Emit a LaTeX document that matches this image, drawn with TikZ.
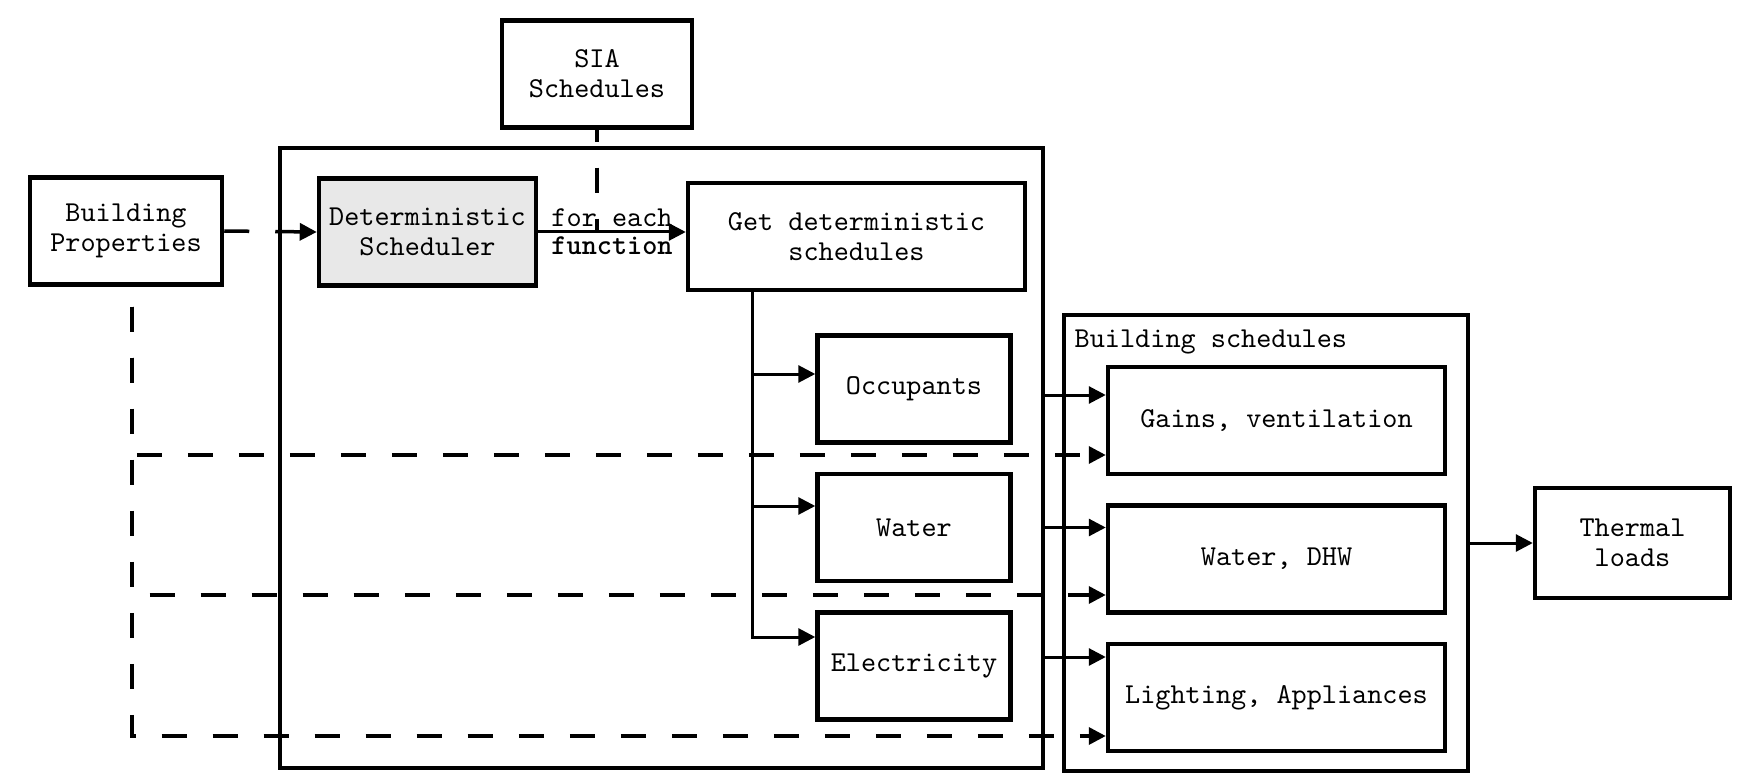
\documentclass[tikz,border=0pt]{standalone}
\usepackage{fontspec}
\setmainfont{lmmono10-regular}[Extension=.otf, BoldFont=lmmonolt10-bold]
\usetikzlibrary{arrows.meta}
\tikzset{
  >={Triangle[length=0.17cm,width=0.17cm]},
  box/.style={draw, line width=0.045cm, minimum width=1.93cm, minimum height=1.07cm, align=center, inner sep=0pt},
  widebox/.style={box, minimum width=3.37cm},
  frame/.style={draw, line width=0.04cm, inner sep=0pt},
  link/.style={line width=0.03cm},
  dashlink/.style={line width=0.035cm, dash pattern=on 0.25cm off 0.26cm},
}
\begin{document}
\begin{tikzpicture}[font=\fontsize{8.2}{8.6}\selectfont]
\useasboundingbox (0,0) rectangle (17.56,7.82);
\draw (6.615,3.24) node [frame, minimum width=7.63cm, minimum height=6.20cm] (proc) {};
\draw (12.66,2.39) node [frame, minimum width=4.04cm, minimum height=4.56cm] (bsched) {};
\draw (10.74,4.40) node [anchor=west, inner sep=0pt] (bslabel) {Building schedules};
\draw (1.26,5.51) node [box, minimum width=1.92cm] (bp) {Building\\Properties};
\draw (5.97,7.08) node [box, minimum width=1.90cm] (sia) {SIA\\Schedules};
\draw (4.275,5.50) node [box, minimum width=2.17cm, fill=gray!18] (det) {Deterministic\\Scheduler};
\draw (8.565,5.455) node [widebox] (get) {Get deterministic\\schedules};
\draw (9.14,3.93) node [box] (occ) {Occupants};
\draw (9.14,2.545) node [box] (wat) {Water};
\draw (9.14,1.16) node [box] (ele) {Electricity};
\draw (12.765,3.615) node [widebox] (gains) {Gains, ventilation};
\draw (12.765,2.23) node [widebox] (wdhw) {Water, DHW};
\draw (12.765,0.845) node [widebox] (light) {Lighting, Appliances};
\draw (16.325,2.39) node [box, minimum width=1.95cm, minimum height=1.10cm] (thermal) {Thermal\\loads};
\draw[dashlink,->] (bp.east) -- (det.west);
\draw[link,->] (det.east) -- (det.east -| get.west)
  node [midway, above, inner sep=1pt] {for each}
  node [midway, below, inner sep=1pt] {\bfseries function};
\draw[dashlink, dash phase=0.13cm] (sia.south) -- (sia.south |- det.east);
\draw[link,->] ([xshift=0.67cm]get.south west) |- ([yshift=0.15cm]occ.west);
\draw[link,->] ([xshift=0.67cm]get.south west) |- ([yshift=0.215cm]wat.west);
\draw[link,->] ([xshift=0.67cm]get.south west) |- ([yshift=0.29cm]ele.west);
\draw[link,->] ([yshift=-0.06cm]occ.east -| proc.east) -- ([yshift=-0.06cm]occ.east -| gains.west);
\draw[link,->] (wat.east -| proc.east) -- (wat.east -| wdhw.west);
\draw[link,->] ([yshift=0.09cm]ele.east -| proc.east) -- ([yshift=0.09cm]ele.east -| light.west);
\draw[dashlink, dash phase=0.31cm,->] ([xshift=0.06cm]bp.south) |- ([yshift=-0.345cm]gains.west);
\draw[dashlink, dash phase=0.31cm,->] ([xshift=0.06cm]bp.south) |- ([yshift=-0.36cm]wdhw.west);
\draw[dashlink, dash phase=0.31cm,->] ([xshift=0.06cm]bp.south) |- ([yshift=-0.385cm]light.west);
\draw[link,->] (thermal.west -| bsched.east) -- (thermal.west);
\end{tikzpicture}
\end{document}
